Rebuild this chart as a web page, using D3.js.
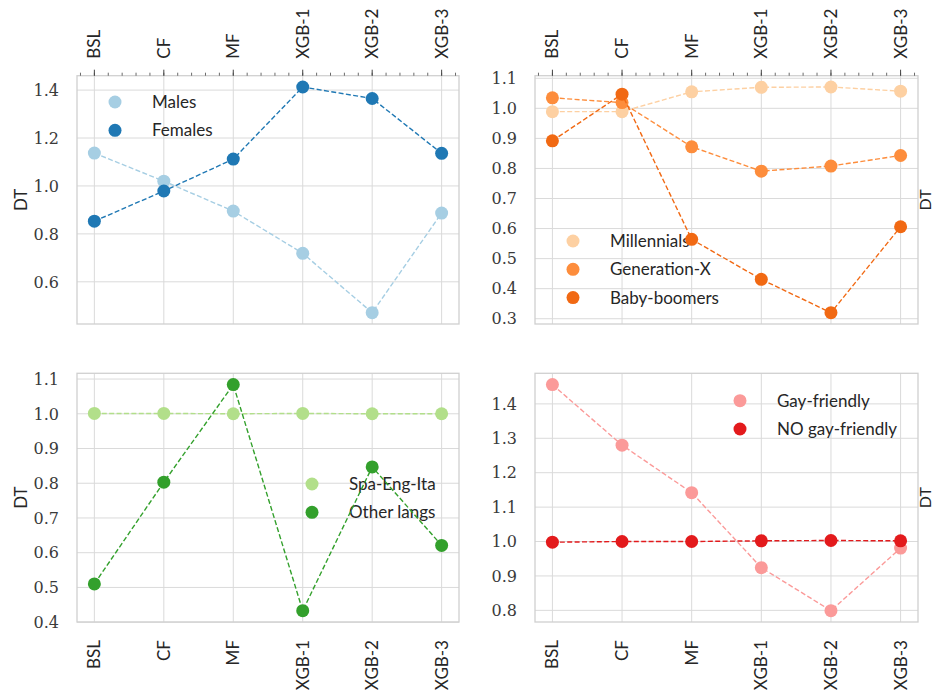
<!DOCTYPE html>
<html>
<head>
<meta charset="utf-8">
<script src="https://cdn.jsdelivr.net/npm/d3@7"></script>
<style>
  html, body { margin: 0; padding: 0; background: #fff; }
  svg { display: block; }
  .num { font-family: "DejaVu Serif", "Liberation Serif", serif; }
  .sans { font-family: Lato, "Open Sans", sans-serif; }
</style>
</head>
<body>
<svg id="chart" width="934" height="693"></svg>
<script>
// ---- data ----
const categories = ["BSL", "CF", "MF", "XGB-1", "XGB-2", "XGB-3"];

const gender_labels = ["Males", "Females"];
const males = [1.137, 1.020, 0.895, 0.719, 0.471, 0.887];
const females = [0.853, 0.979, 1.112, 1.413, 1.365, 1.136];
const gender_ticks = [0.6, 0.8, 1.0, 1.2, 1.4];

const age_labels = ["Millennials", "Generation-X", "Baby-boomers"];
const millennials = [0.989, 0.989, 1.055, 1.070, 1.071, 1.057];
const generationX = [1.035, 1.019, 0.872, 0.791, 0.808, 0.843];
const babyBoomers = [0.892, 1.047, 0.564, 0.431, 0.320, 0.606];
const age_ticks = [0.3, 0.4, 0.5, 0.6, 0.7, 0.8, 0.9, 1.0, 1.1];

const lang_labels = ["Spa-Eng-Ita", "Other langs"];
const spaEngIta = [1.001, 1.001, 1.000, 1.001, 1.000, 1.000];
const otherLangs = [0.510, 0.803, 1.084, 0.433, 0.847, 0.621];
const lang_ticks = [0.4, 0.5, 0.6, 0.7, 0.8, 0.9, 1.0, 1.1];

const gay_labels = ["Gay-friendly", "NO gay-friendly"];
const gayFriendly = [1.456, 1.280, 1.142, 0.924, 0.799, 0.981];
const noGayFriendly = [0.998, 1.000, 1.000, 1.002, 1.003, 1.002];
const gay_ticks = [0.8, 0.9, 1.0, 1.1, 1.2, 1.3, 1.4];

// ---- layout / style ----
const svg = d3.select("#chart");

const panels = [
  { x0: 77, x1: 459, y0: 75.7, y1: 324, top: true, ylabelSide: "left",
    series: [males, females], labels: gender_labels, colors: ["#a6cee3", "#1f78b4"],
    ticks: gender_ticks, legend: { x: 115, y: 102 } },
  { x0: 535, x1: 918, y0: 75.7, y1: 324, top: true, ylabelSide: "right",
    series: [millennials, generationX, babyBoomers], labels: age_labels,
    colors: ["#fdd0a2", "#fd8d3c", "#f16913"],
    ticks: age_ticks, legend: { x: 573, y: 241 } },
  { x0: 77, x1: 459, y0: 373.3, y1: 622, top: false, ylabelSide: "left",
    series: [spaEngIta, otherLangs], labels: lang_labels, colors: ["#b2df8a", "#33a02c"],
    ticks: lang_ticks, legend: { x: 312, y: 484 } },
  { x0: 535, x1: 918, y0: 373.3, y1: 622, top: false, ylabelSide: "right",
    series: [gayFriendly, noGayFriendly], labels: gay_labels, colors: ["#fb9a99", "#e31a1c"],
    ticks: gay_ticks, legend: { x: 740, y: 400.7 } }
];

panels.forEach(p => {
  const g = svg.append("g");
  const all = p.series.flat();
  const lo = d3.min(all), hi = d3.max(all), m = (hi - lo) * 0.05;
  const x = d3.scaleLinear().domain([-0.25, categories.length - 0.75]).range([p.x0, p.x1]);
  const y = d3.scaleLinear().domain([lo - m, hi + m]).range([p.y1, p.y0]);

  // grid
  g.append("g").selectAll("line").data(p.ticks).join("line")
    .attr("x1", p.x0).attr("x2", p.x1)
    .attr("y1", d => y(d)).attr("y2", d => y(d))
    .attr("stroke", "#dadada").attr("stroke-width", 1);
  g.append("g").selectAll("line").data(categories).join("line")
    .attr("x1", (d, i) => x(i)).attr("x2", (d, i) => x(i))
    .attr("y1", p.y0).attr("y2", p.y1)
    .attr("stroke", "#dadada").attr("stroke-width", 1);

  // frame
  g.append("rect").attr("x", p.x0).attr("y", p.y0)
    .attr("width", p.x1 - p.x0).attr("height", p.y1 - p.y0)
    .attr("fill", "none").attr("stroke", "#d0d0d0").attr("stroke-width", 1.3);

  // y tick labels
  g.append("g").selectAll("text").data(p.ticks).join("text")
    .attr("class", "num")
    .attr("x", p.x0 - 18).attr("y", d => y(d))
    .attr("dy", "0.36em").attr("text-anchor", "end")
    .attr("font-size", 16).attr("fill", "#3a3a3a")
    .text(d => d3.format(".1f")(d));

  // x ticks + labels
  if (p.top) {
    const minor = d3.range(-1, 27).map(k => k * 0.2).filter(v => v > -0.25 && v < 5.25);
    g.append("g").selectAll("line").data(minor).join("line")
      .attr("x1", d => x(d)).attr("x2", d => x(d))
      .attr("y1", p.y0 - 3).attr("y2", p.y0)
      .attr("stroke", "#444").attr("stroke-width", 0.8);
    g.append("g").selectAll("line").data(categories).join("line")
      .attr("x1", (d, i) => x(i)).attr("x2", (d, i) => x(i))
      .attr("y1", p.y0 - 6).attr("y2", p.y0)
      .attr("stroke", "#444").attr("stroke-width", 1);
    g.append("g").selectAll("text").data(categories).join("text")
      .attr("class", "sans")
      .attr("transform", (d, i) => `translate(${x(i)},${p.y0 - 17}) rotate(-90)`)
      .attr("dy", "0.35em").attr("text-anchor", "start")
      .attr("font-size", 17).attr("fill", "#262626")
      .text(d => d);
  } else {
    g.append("g").selectAll("text").data(categories).join("text")
      .attr("class", "sans")
      .attr("transform", (d, i) => `translate(${x(i)},${p.y1 + 18}) rotate(-90)`)
      .attr("dy", "0.35em").attr("text-anchor", "end")
      .attr("font-size", 17).attr("fill", "#262626")
      .text(d => d);
  }

  // y label
  const ymid = (p.y0 + p.y1) / 2;
  const lx = p.ylabelSide === "left" ? 21 : 925;
  g.append("text")
    .attr("class", "sans")
    .attr("transform", `translate(${lx},${ymid}) rotate(-90)`)
    .attr("dy", "0.35em").attr("text-anchor", "middle")
    .attr("font-size", p.ylabelSide === "left" ? 17 : 16).attr("fill", "#262626")
    .text("DT");

  // legend (no frame)
  const lg = g.append("g");
  p.labels.forEach((lab, k) => {
    const ly = p.legend.y + k * 28.3;
    lg.append("circle").attr("cx", p.legend.x).attr("cy", ly).attr("r", 6.5)
      .attr("fill", p.colors[k]);
    lg.append("text").attr("class", "sans")
      .attr("x", p.legend.x + 37).attr("y", ly).attr("dy", "0.35em")
      .attr("font-size", 17).attr("fill", "#262626")
      .text(lab);
  });

  // series
  const line = d3.line().x((d, i) => x(i)).y(d => y(d));
  p.series.forEach((vals, k) => {
    g.append("path").datum(vals).attr("d", line)
      .attr("fill", "none").attr("stroke", p.colors[k])
      .attr("stroke-width", 1.4).attr("stroke-dasharray", "5,2.4");
    g.append("g").selectAll("circle").data(vals).join("circle")
      .attr("cx", (d, i) => x(i)).attr("cy", d => y(d)).attr("r", 6.5)
      .attr("fill", p.colors[k]);
  });
});
</script>
</body>
</html>
